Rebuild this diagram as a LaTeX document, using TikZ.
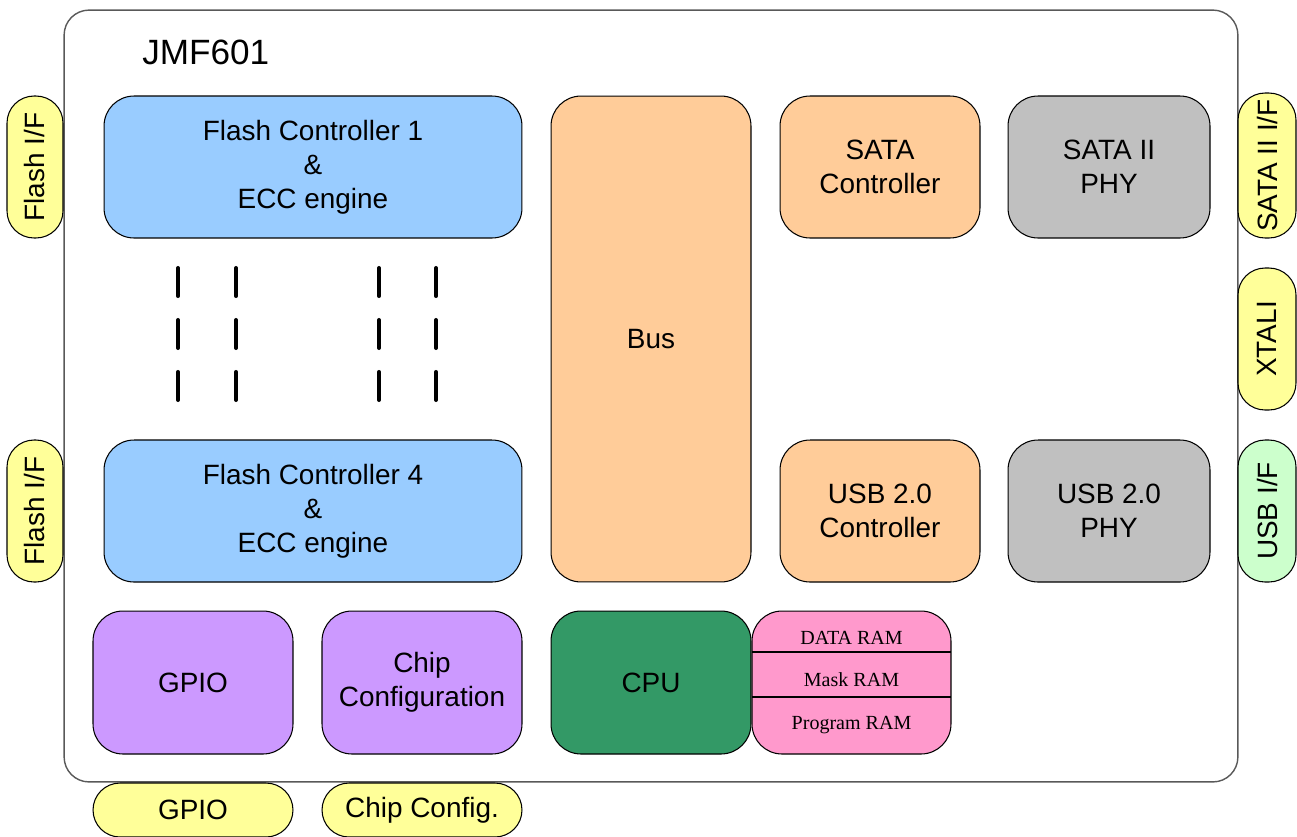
\documentclass[tikz,border=0pt]{standalone}
\usepackage{fontspec}
\setmainfont{Liberation Sans}
\newfontfamily\ramfont{Liberation Serif}
\definecolor{flashblue}{HTML}{99CCFF}
\definecolor{ctlorange}{HTML}{FFCC99}
\definecolor{phygray}{HTML}{C0C0C0}
\definecolor{iopurple}{HTML}{CC99FF}
\definecolor{cpugreen}{HTML}{339966}
\definecolor{rampink}{HTML}{FF99CC}
\definecolor{pinyellow}{HTML}{FFFF99}
\definecolor{pingreen}{HTML}{CCFFCC}
\begin{document}
\begin{tikzpicture}[x=0.02cm,y=-0.02cm,
  blk/.style={draw,line width=0.6pt,rounded corners=0.6cm,align=center,
    inner sep=0pt,font=\fontsize{15.9}{19.4}\selectfont},
  pin/.style={draw,line width=0.6pt,rounded corners=0.54cm,fill=pinyellow,
    align=center,inner sep=0pt,font=\fontsize{15.9}{19.4}\selectfont}]
\useasboundingbox (0,0) rectangle (1297,836);
% chip outline
\node[draw=black!65,line width=0.8pt,rounded corners=0.5cm,inner sep=0pt,
  minimum width=23.48cm,minimum height=15.44cm] (chip) at (651,396) {};
\node[anchor=west,inner sep=0pt,font=\fontsize{20}{24}\selectfont] (title) at (142,52) {JMF601};
% flash side
\node[blk,fill=flashblue,minimum width=8.36cm,minimum height=2.84cm] (fcA) at (313,167)
  {Flash Controller 1\\\&\\ECC engine};
\node[blk,fill=flashblue,minimum width=8.36cm,minimum height=2.84cm] (fcD) at (313,511)
  {Flash Controller 4\\\&\\ECC engine};
\foreach \x in {178,236,379,436}
  \draw[line width=2.3pt,line cap=round,dash pattern=on 0.56cm off 0.48cm] (\x,268) -- (\x,401);
% bus and host side
\node[blk,fill=ctlorange,minimum width=4cm,minimum height=9.72cm] (bus) at (651,339) {Bus};
\node[blk,fill=ctlorange,minimum width=4cm,minimum height=2.84cm] (satactl) at (880,167) {SATA\\Controller};
\node[blk,fill=phygray,minimum width=4.04cm,minimum height=2.84cm] (sataphy) at (1109,167) {SATA II\\PHY};
\node[blk,fill=ctlorange,minimum width=4cm,minimum height=2.84cm] (usbctl) at (880,511) {USB 2.0\\Controller};
\node[blk,fill=phygray,minimum width=4.04cm,minimum height=2.84cm] (usbphy) at (1109,511) {USB 2.0\\PHY};
% bottom row
\node[blk,fill=iopurple,minimum width=4cm,minimum height=2.86cm] (gpio) at (193,682.5) {GPIO};
\node[blk,fill=iopurple,minimum width=4cm,minimum height=2.86cm] (chipcfg) at (422,682.5) {Chip\\Configuration};
\node[blk,fill=cpugreen,minimum width=4cm,minimum height=2.86cm] (cpu) at (651,682.5) {CPU};
\node[blk,fill=rampink,minimum width=3.98cm,minimum height=2.86cm] (ram) at (851.5,682.5) {};
\draw[line width=0.6pt] (752,652) -- (951,652);
\draw[line width=0.6pt] (752,697) -- (951,697);
\node[font=\ramfont\fontsize{11.4}{13}\selectfont] (dataram) at (851.5,638) {DATA RAM};
\node[font=\ramfont\fontsize{11.4}{13}\selectfont] (maskram) at (851.5,680) {Mask RAM};
\node[font=\ramfont\fontsize{11.4}{13}\selectfont] (program) at (851.5,725) {Program RAM};
% pins
\node[pin,rotate=90,minimum width=2.84cm,minimum height=1.12cm] (flashifA) at (35,167) {Flash I/F};
\node[pin,rotate=90,minimum width=2.84cm,minimum height=1.12cm] (flashifD) at (35,511) {Flash I/F};
\node[pin,rotate=90,minimum width=2.9cm,minimum height=1.16cm] (sataif) at (1267,165.5) {SATA II I/F};
\node[pin,rotate=90,minimum width=2.84cm,minimum height=1.16cm] (xtali) at (1267,339) {XTALI};
\node[pin,fill=pingreen,rotate=90,minimum width=2.84cm,minimum height=1.16cm] (usbif) at (1267,511) {USB I/F};
\node[pin,minimum width=4cm,minimum height=1.08cm] (gpiopin) at (193,810) {GPIO};
\node[pin,minimum width=4cm,minimum height=1.08cm] (cfgpin) at (422,810) {Chip Config.};
\end{tikzpicture}
\end{document}
